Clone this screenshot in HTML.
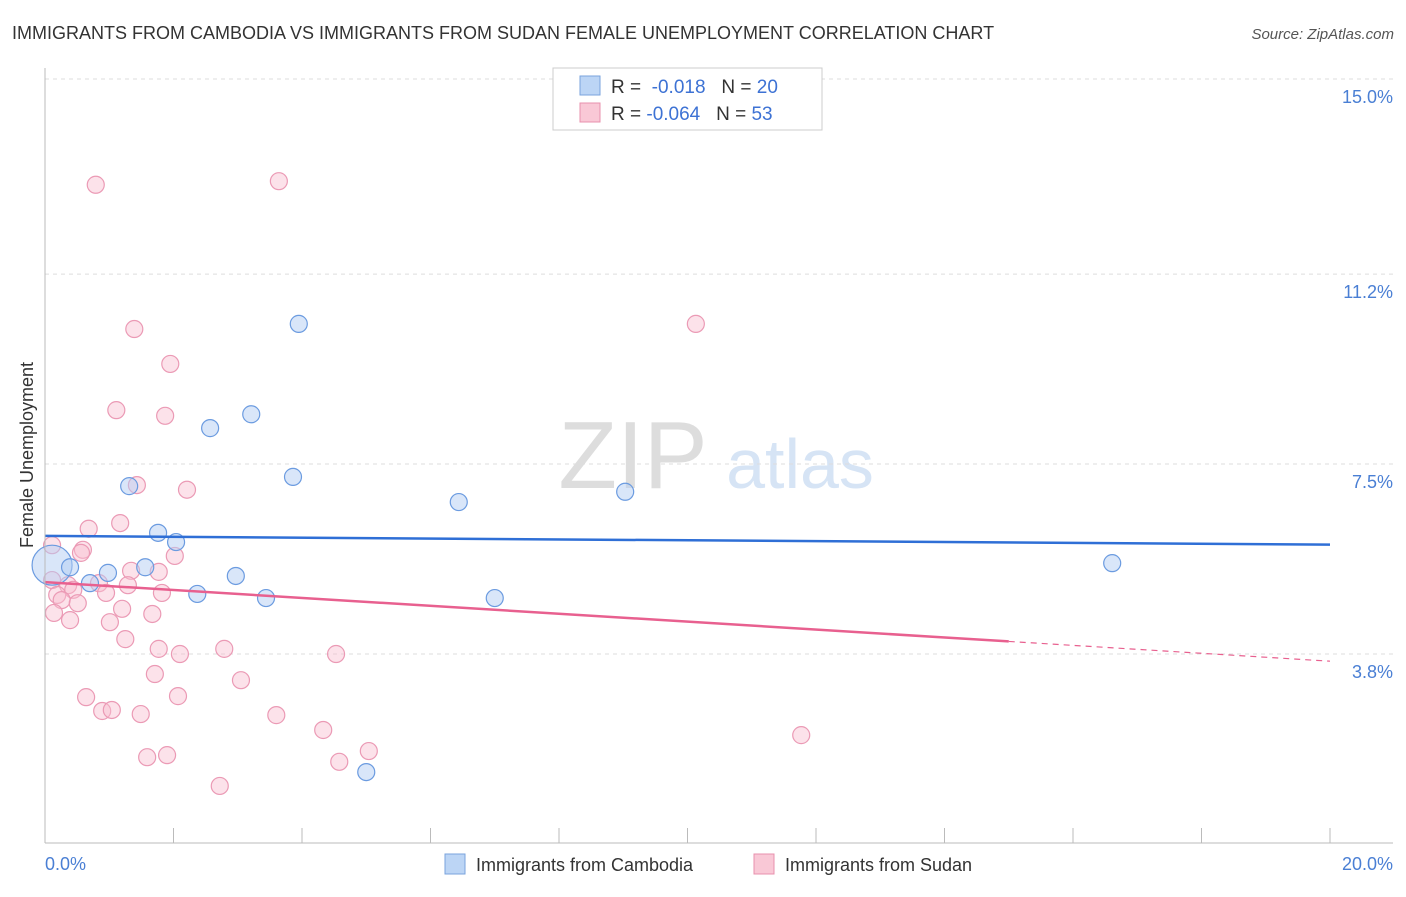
<!DOCTYPE html>
<html><head><meta charset="utf-8"><style>
body{margin:0;background:#fff;font-family:"Liberation Sans",sans-serif;}
svg text{font-family:"Liberation Sans",sans-serif;}
</style></head><body>
<svg id="c" width="1406" height="892">
<text x="12" y="39" font-size="18" fill="#333">IMMIGRANTS FROM CAMBODIA VS IMMIGRANTS FROM SUDAN FEMALE UNEMPLOYMENT CORRELATION CHART</text>
<text x="1394" y="39" font-size="15" fill="#555" font-style="italic" text-anchor="end">Source: ZipAtlas.com</text>
<text x="633" y="488" font-size="96" fill="#ddd" font-family="Liberation Serif" text-anchor="middle">ZIP</text>
<text x="800" y="488" font-size="70" fill="#d6e4f5" text-anchor="middle">atlas</text>
<text transform="translate(33,455) rotate(-90)" font-size="18" fill="#333" text-anchor="middle">Female Unemployment</text>
<g id="grid"></g><g id="pts"></g><g id="lines"></g>
<line x1="45" y1="68" x2="45" y2="843" stroke="#bbb"/>
<line x1="45" y1="843" x2="1393" y2="843" stroke="#bbb"/>
<text x="45" y="870" font-size="18" fill="#4a7fd4">0.0%</text>
<text x="1393" y="870" font-size="18" fill="#4a7fd4" text-anchor="end">20.0%</text>
<rect x="445" y="854" width="20" height="20" fill="#bcd5f5" stroke="#7aa3dd"/>
<text x="476" y="871" font-size="18" fill="#333">Immigrants from Cambodia</text>
<rect x="754" y="854" width="20" height="20" fill="#f9c8d6" stroke="#e890ad"/>
<text x="785" y="871" font-size="18" fill="#333">Immigrants from Sudan</text>
<rect x="553" y="68" width="269" height="62" fill="#fff" stroke="#ccc"/>
<rect x="580" y="76" width="20" height="19" fill="#bcd5f5" stroke="#7aa3dd"/>
<rect x="580" y="103" width="20" height="19" fill="#f9c8d6" stroke="#e890ad"/>
<text x="611" y="93" font-size="19" fill="#333">R = <tspan fill="#3d72d4">&#160;-0.018</tspan>&#160;&#160;&#160;N = <tspan fill="#3d72d4">20</tspan></text>
<text x="611" y="120" font-size="19" fill="#333">R = <tspan fill="#3d72d4">-0.064</tspan>&#160;&#160;&#160;N = <tspan fill="#3d72d4">53</tspan></text>
</svg>
<script>
const yTicks=[15.0,11.2,7.5,3.8];
const yTickLabels=["15.0%","11.2%","7.5%","3.8%"];
const camX=[0.11,0.39,0.70,0.98,1.31,1.56,1.76,2.04,2.37,2.57,2.97,3.21,3.44,3.86,3.95,5.00,6.44,7.00,9.03,16.61];
const camY=[5.53,5.49,5.18,5.38,7.07,5.49,6.16,5.98,4.97,8.20,5.32,8.47,4.89,7.25,10.23,1.50,6.76,4.89,6.96,5.57];
const sudX=[0.79,3.64,1.39,1.95,1.11,1.87,10.13,1.43,2.21,1.17,0.68,0.11,0.59,0.56,2.02,0.11,0.36,0.84,1.34,1.77,1.29,0.44,0.19,0.95,0.26,0.51,1.82,0.14,1.20,1.67,0.39,1.01,1.25,1.77,2.10,2.79,4.53,1.71,3.05,0.64,2.07,0.89,1.04,1.49,3.60,4.33,11.77,1.59,1.90,5.04,4.58,2.72];
const sudY=[12.94,13.01,10.13,9.45,8.55,8.44,10.23,7.09,7.00,6.35,6.24,5.92,5.83,5.77,5.71,5.24,5.14,5.18,5.42,5.40,5.14,5.05,4.95,4.99,4.85,4.79,4.99,4.60,4.68,4.58,4.46,4.42,4.09,3.90,3.80,3.90,3.80,3.41,3.29,2.96,2.98,2.69,2.71,2.63,2.61,2.32,2.22,1.79,1.83,1.91,1.70,1.23];
const camTrend=[6.10,5.93];
const sudTrend=[5.20,3.66];
const sudSolidEnd=15;
const X=v=>45+v*64.25, Y=v=>79+(15-v)*51.34;
const NS="http://www.w3.org/2000/svg";
function mk(t,a,p){const e=document.createElementNS(NS,t);for(const k in a)e.setAttribute(k,a[k]);p.appendChild(e);return e;}
const g=document.getElementById('grid');
yTicks.forEach((t,i)=>{
 const l=mk('line',{x1:45,x2:1393,y1:Y(t),y2:Y(t),stroke:'#ddd','stroke-dasharray':'4,4'},g);
 
 
 const tx=mk('text',{x:1393,y:Y(t)+24,'font-size':18,fill:'#4a7fd4','text-anchor':'end'},g);
 tx.textContent=yTickLabels[i];
 
 
});
for(let k=0;k<=10;k++){
 const l=mk('line',{x1:X(k*2),x2:X(k*2),y1:828,y2:843,stroke:'#bbb'},g);
 
 
}
const p=document.getElementById('pts');
sudX.forEach((x,i)=>{
 const c=mk('circle',{cx:X(x),cy:Y(sudY[i]),r:8.5,fill:'rgba(249,190,208,0.45)',stroke:'#eb9ab5','stroke-width':1.2},p);
 
 
});
camX.forEach((x,i)=>{
 const c=mk('circle',{cx:X(x),cy:Y(camY[i]),r:i==0?20:8.5,fill:'rgba(180,206,244,0.5)',stroke:'#6b9be0','stroke-width':1.2},p);
 
 
});
const L=document.getElementById('lines');
const a=mk('line',{x1:X(0),y1:Y(camTrend[0]),x2:X(20),y2:Y(camTrend[1]),stroke:'#2f6fd6','stroke-width':2.5},L);


const sy=v=>sudTrend[0]+(sudTrend[1]-sudTrend[0])*v/20;
const b=mk('line',{x1:X(0),y1:Y(sudTrend[0]),x2:X(sudSolidEnd),y2:Y(sy(sudSolidEnd)),stroke:'#e8608f','stroke-width':2.5},L);


const d=mk('line',{x1:X(sudSolidEnd),y1:Y(sy(sudSolidEnd)),x2:X(20),y2:Y(sudTrend[1]),stroke:'#e8608f','stroke-width':1.2,'stroke-dasharray':'6,5'},L);


</script>
</body></html>
